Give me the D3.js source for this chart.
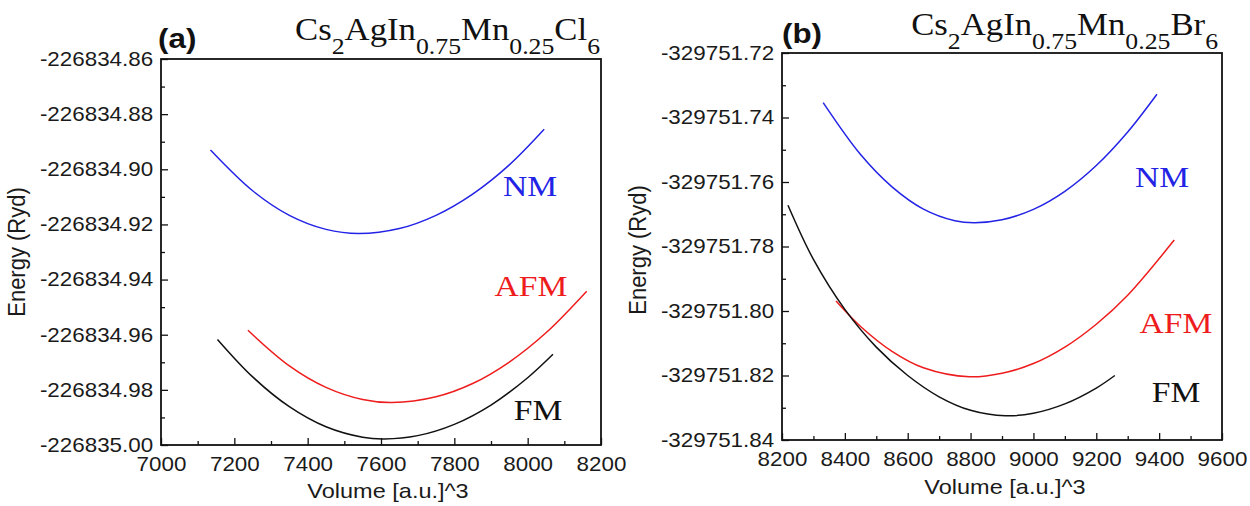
<!DOCTYPE html>
<html>
<head>
<meta charset="utf-8">
<script src="https://cdn.jsdelivr.net/npm/d3@7"></script>
<style>
  html, body { margin: 0; padding: 0; background: #fff; }
  svg { display: block; }
</style>
</head>
<body>
<svg id="chart" width="1250" height="506"></svg>
<script>
// ---------------- DATA ----------------
// Panel (a): Cs2AgIn0.75Mn0.25Cl6
const xTicksA = [7000, 7200, 7400, 7600, 7800, 8000, 8200];
const yTicksA = [-226834.86, -226834.88, -226834.90, -226834.92, -226834.94, -226834.96, -226834.98, -226835.00];
const volNM_a  = [7135, 7250, 7350, 7450, 7539, 7650, 7750, 7850, 7950, 8045];
const eNM_a    = [-226834.8930, -226834.9078, -226834.9167, -226834.9218, -226834.9233, -226834.9215, -226834.9167, -226834.9090, -226834.8984, -226834.8855];
const volAFM_a = [7237, 7350, 7450, 7550, 7630, 7750, 7850, 7950, 8050, 8161];
const eAFM_a   = [-226834.9584, -226834.9713, -226834.9791, -226834.9835, -226834.9846, -226834.9825, -226834.9777, -226834.9699, -226834.9593, -226834.9442];
const volFM_a  = [7154, 7250, 7350, 7450, 7550, 7609, 7700, 7800, 7900, 8000, 8069];
const eFM_a    = [-226834.9617, -226834.9753, -226834.9861, -226834.9934, -226834.9972, -226834.9978, -226834.9966, -226834.9925, -226834.9855, -226834.9756, -226834.9671];

// Panel (b): Cs2AgIn0.75Mn0.25Br6
const xTicksB = [8200, 8400, 8600, 8800, 9000, 9200, 9400, 9600];
const yTicksB = [-329751.72, -329751.74, -329751.76, -329751.78, -329751.80, -329751.82, -329751.84];
const volNM_b  = [8331, 8450, 8550, 8650, 8750, 8813, 8900, 9000, 9100, 9200, 9300, 9393];
const eNM_b    = [-329751.7354, -329751.7515, -329751.7615, -329751.7684, -329751.7720, -329751.7726, -329751.7717, -329751.7685, -329751.7629, -329751.7549, -329751.7445, -329751.7328];
const volAFM_b = [8372, 8450, 8550, 8650, 8796, 8900, 9000, 9100, 9200, 9300, 9448];
const eAFM_b   = [-329751.7969, -329751.8048, -329751.8125, -329751.8176, -329751.8204, -329751.8193, -329751.8163, -329751.8112, -329751.8041, -329751.7951, -329751.7780];
const volFM_b  = [8219, 8300, 8400, 8500, 8600, 8700, 8800, 8911, 9000, 9100, 9200, 9259];
const eFM_b    = [-329751.7672, -329751.7840, -329751.7995, -329751.8112, -329751.8200, -329751.8266, -329751.8308, -329751.8325, -329751.8317, -329751.8288, -329751.8239, -329751.8200];

const seriesNames = ["NM", "AFM", "FM"];
const xTitle = "Volume [a.u.]^3";
const yTitle = "Energy (Ryd)";
const panelTags = ["(a)", "(b)"];
// title pieces: [text, isSubscript]
const titleA = [["Cs",0],["2",1],["AgIn",0],["0.75",1],["Mn",0],["0.25",1],["Cl",0],["6",1]];
const titleB = [["Cs",0],["2",1],["AgIn",0],["0.75",1],["Mn",0],["0.25",1],["Br",0],["6",1]];

// ---------------- STYLE / LAYOUT ----------------
const colors = { NM: "#2323e6", AFM: "#ee1c1c", FM: "#111111" };
const SX = 1.12; // horizontal stretch of the original figure's text
const sans = "'Liberation Sans', Arial, sans-serif";
const serif = "'Liberation Serif', 'Times New Roman', serif";

const svg = d3.select("#chart");
svg.append("rect").attr("width", 1250).attr("height", 506).attr("fill", "#fff");

const panels = [
  {
    box: { l: 161, r: 601, t: 59, b: 445 },
    xDomain: [7000, 8200], yDomain: [-226835.00, -226834.86],
    xTicks: xTicksA, yTicks: yTicksA,
    series: [
      { name: "NM", x: volNM_a, y: eNM_a },
      { name: "AFM", x: volAFM_a, y: eAFM_a },
      { name: "FM", x: volFM_a, y: eFM_a }
    ],
    labels: { NM: [530, 196], AFM: [531, 296], FM: [538, 420] },
    tag: panelTags[0], tagPos: [158, 48],
    title: titleA, titlePos: [600, 40],
    yTitlePos: [25, 252], xTitlePos: [388, 498]
  },
  {
    box: { l: 782, r: 1222, t: 53, b: 440 },
    xDomain: [8200, 9600], yDomain: [-329751.84, -329751.72],
    xTicks: xTicksB, yTicks: yTicksB,
    series: [
      { name: "NM", x: volNM_b, y: eNM_b },
      { name: "AFM", x: volAFM_b, y: eAFM_b },
      { name: "FM", x: volFM_b, y: eFM_b }
    ],
    labels: { NM: [1162, 187], AFM: [1176, 333], FM: [1176, 402] },
    tag: panelTags[1], tagPos: [782, 43],
    title: titleB, titlePos: [1218, 35],
    yTitlePos: [646, 250], xTitlePos: [1005, 494]
  }
];

const fmtY = d => d.toFixed(2);
const fmtX = d => String(d);

panels.forEach(p => {
  const { l, r, t, b } = p.box;
  const x = d3.scaleLinear().domain(p.xDomain).range([l, r]);
  const y = d3.scaleLinear().domain(p.yDomain).range([b, t]);
  const g = svg.append("g");

  const xMinor = d3.pairs(p.xTicks).map(([a, c]) => (a + c) / 2);
  const yMinor = d3.pairs(p.yTicks).map(([a, c]) => (a + c) / 2);

  // minor ticks
  const gxm = g.append("g").attr("transform", `translate(0,${b})`)
    .call(d3.axisBottom(x).tickValues(xMinor).tickSizeInner(-4).tickSizeOuter(0).tickFormat(""));
  const gym = g.append("g").attr("transform", `translate(${l},0)`)
    .call(d3.axisLeft(y).tickValues(yMinor).tickSizeInner(-4).tickSizeOuter(0).tickFormat(""));
  [gxm, gym].forEach(s => { s.select(".domain").remove(); s.selectAll("line").attr("stroke", "#111").attr("stroke-width", 1.3); });

  // major ticks + labels
  const gx = g.append("g").attr("transform", `translate(0,${b})`)
    .call(d3.axisBottom(x).tickValues(p.xTicks).tickSizeInner(-7).tickSizeOuter(0).tickPadding(12).tickFormat(fmtX));
  const gy = g.append("g").attr("transform", `translate(${l},0)`)
    .call(d3.axisLeft(y).tickValues(p.yTicks).tickSizeInner(-7).tickSizeOuter(0).tickPadding(7).tickFormat(fmtY));
  [gx, gy].forEach(s => {
    s.select(".domain").remove();
    s.selectAll("line").attr("stroke", "#111").attr("stroke-width", 1.3);
    s.selectAll("text").attr("font-family", sans).attr("font-size", 20).attr("fill", "#1a1a1a")
      .attr("transform", `scale(${SX},1)`);
  });

  // frame
  g.append("rect").attr("x", l).attr("y", t).attr("width", r - l).attr("height", b - t)
    .attr("fill", "none").attr("stroke", "#111").attr("stroke-width", 1.8);

  // curves
  const line = d3.line().x(d => x(d[0])).y(d => y(d[1])).curve(d3.curveCatmullRom.alpha(0.5));
  p.series.forEach(s => {
    const pts = s.x.map((v, i) => [v, s.y[i]]);
    g.append("path").datum(pts).attr("d", line)
      .attr("fill", "none").attr("stroke", colors[s.name]).attr("stroke-width", 1.5);
  });

  // series labels
  seriesNames.forEach(n => {
    const [lx, ly] = p.labels[n];
    g.append("text").attr("transform", `translate(${lx},${ly}) scale(${SX},1)`)
      .attr("text-anchor", "middle").attr("font-family", serif).attr("font-size", 30)
      .attr("fill", colors[n]).text(n);
  });

  // panel tag
  g.append("text").attr("transform", `translate(${p.tagPos[0]},${p.tagPos[1]}) scale(${SX},1)`)
    .attr("font-family", sans).attr("font-weight", "bold").attr("font-size", 28).attr("fill", "#111")
    .text(p.tag);

  // formula title
  const tt = g.append("text").attr("transform", `translate(${p.titlePos[0]},${p.titlePos[1]}) scale(${SX},1)`)
    .attr("text-anchor", "end").attr("font-family", serif).attr("fill", "#111");
  let sub = false;
  p.title.forEach(([txt, isSub]) => {
    const ts = tt.append("tspan").text(txt).attr("font-size", isSub ? 23 : 31);
    if (isSub && !sub) ts.attr("dy", 14);
    if (!isSub && sub) ts.attr("dy", -14);
    sub = !!isSub;
  });

  // axis titles
  g.append("text").attr("transform", `translate(${p.xTitlePos[0]},${p.xTitlePos[1]}) scale(${SX},1)`)
    .attr("text-anchor", "middle").attr("font-family", sans).attr("font-size", 21).attr("fill", "#1a1a1a")
    .text(xTitle);
  g.append("text").attr("transform", `translate(${p.yTitlePos[0]},${p.yTitlePos[1]}) rotate(-90) scale(1,${SX})`)
    .attr("text-anchor", "middle").attr("font-family", sans).attr("font-size", 22).attr("fill", "#1a1a1a")
    .text(yTitle);
});
</script>
</body>
</html>
